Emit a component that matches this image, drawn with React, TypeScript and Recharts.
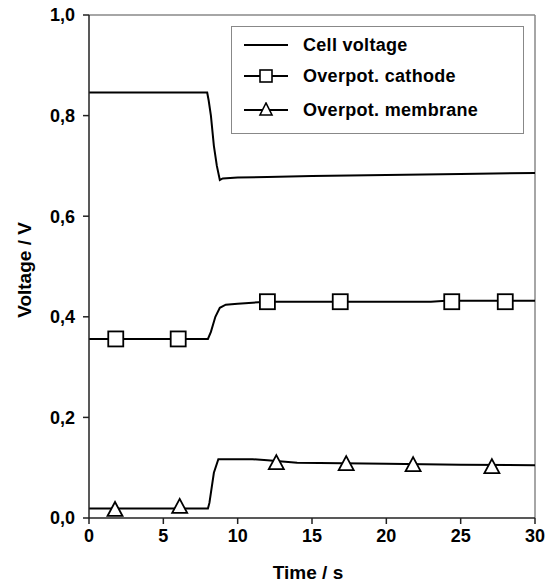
import {
  ComposedChart,
  Line,
  Scatter,
  XAxis,
  YAxis,
  ReferenceLine,
} from 'recharts';

// Measured traces (time in s, voltage in V)
const cellTime = [0, 7.95, 8.05, 8.2, 8.4, 8.6, 8.8, 9.0, 10, 12, 15, 20, 25, 30];
const cellVolt = [0.846, 0.846, 0.83, 0.8, 0.74, 0.7, 0.672, 0.675, 0.677, 0.678, 0.68, 0.682, 0.684, 0.686];

const cathodeTime = [0, 8.0, 8.2, 8.5, 8.8, 9.2, 10, 11, 12, 20, 23, 24, 30];
const cathodeVolt = [0.356, 0.356, 0.37, 0.4, 0.418, 0.424, 0.426, 0.428, 0.43, 0.43, 0.43, 0.432, 0.432];

const membraneTime = [0, 8.0, 8.1, 8.4, 8.7, 11, 12, 14, 20, 25, 30];
const membraneVolt = [0.019, 0.019, 0.03, 0.09, 0.117, 0.117, 0.115, 0.11, 0.108, 0.106, 0.105];

// Marker points
const cathodeMarkTime = [1.8, 6.0, 12.0, 16.9, 24.4, 28.0];
const cathodeMarkVolt = [0.356, 0.356, 0.43, 0.43, 0.43, 0.43];

const membraneMarkTime = [1.75, 6.1, 12.6, 17.3, 21.8, 27.1];
const membraneMarkVolt = [0.016, 0.022, 0.109, 0.107, 0.105, 0.101];

const xTicks = [0, 5, 10, 15, 20, 25, 30];
const yTicks = [0, 0.2, 0.4, 0.6, 0.8, 1.0];

const legendItems = ['Cell voltage', 'Overpot. cathode', 'Overpot. membrane'];

const FONT = '"Liberation Sans", Arial, Helvetica, sans-serif';

const toPoints = (t: number[], v: number[]) => t.map((x, i) => ({ t: x, v: v[i] }));

const SquareMark = (props: any) => {
  const { cx, cy } = props;
  if (cx == null || cy == null) return null;
  return <rect x={cx - 7.5} y={cy - 7.5} width={15} height={15} fill="#fff" stroke="#000" strokeWidth={1.8} />;
};

const TriangleMark = (props: any) => {
  const { cx, cy } = props;
  if (cx == null || cy == null) return null;
  return (
    <polygon
      points={`${cx},${cy - 8} ${cx - 7.5},${cy + 6} ${cx + 7.5},${cy + 6}`}
      fill="#fff"
      stroke="#000"
      strokeWidth={1.8}
    />
  );
};

function LegendIcon({ kind }: { kind: number }) {
  return (
    <svg width={46} height={16} style={{ display: 'block' }}>
      <line x1={1} y1={8} x2={45} y2={8} stroke="#000" strokeWidth={2.2} />
      {kind === 1 && <rect x={17} y={2} width={12} height={12} fill="#fff" stroke="#000" strokeWidth={1.6} />}
      {kind === 2 && <polygon points="23,1 17,13 29,13" fill="#fff" stroke="#000" strokeWidth={1.6} />}
    </svg>
  );
}

export default function App() {
  const cell = toPoints(cellTime, cellVolt);
  const cathode = toPoints(cathodeTime, cathodeVolt);
  const membrane = toPoints(membraneTime, membraneVolt);
  const cathodeMarks = toPoints(cathodeMarkTime, cathodeMarkVolt);
  const membraneMarks = toPoints(membraneMarkTime, membraneMarkVolt);

  const tickStyle = { fontSize: 18, fontWeight: 700, fill: '#000', fontFamily: FONT };
  // vertical centres of the legend rows (page coords)
  const rowCentres = [45, 76, 110];

  return (
    <div style={{ position: 'absolute', left: 0, top: 0, width: 551, height: 585, background: '#fff', fontFamily: FONT }}>
      <ComposedChart width={551} height={585} margin={{ top: 15, right: 16, bottom: 0, left: 0 }}>
        <XAxis
          type="number"
          dataKey="t"
          domain={[0, 30]}
          ticks={xTicks}
          allowDataOverflow
          tick={tickStyle}
          tickSize={6}
          tickMargin={5}
          stroke="#222"
          strokeWidth={1.5}
          height={67}
        />
        <YAxis
          type="number"
          dataKey="v"
          domain={[0, 1]}
          ticks={yTicks}
          tickFormatter={(v: number) => v.toFixed(1).replace('.', ',')}
          tick={tickStyle}
          tickSize={6}
          tickMargin={8}
          stroke="#222"
          strokeWidth={1.5}
          width={89}
        />
        <ReferenceLine y={1} stroke="#888" strokeWidth={1.5} />
        <ReferenceLine x={30} stroke="#888" strokeWidth={1.5} />
        <Line data={cell} dataKey="v" type="linear" stroke="#000" strokeWidth={2} dot={false} isAnimationActive={false} />
        <Line data={cathode} dataKey="v" type="linear" stroke="#000" strokeWidth={2} dot={false} isAnimationActive={false} />
        <Line data={membrane} dataKey="v" type="linear" stroke="#000" strokeWidth={2} dot={false} isAnimationActive={false} />
        <Scatter data={cathodeMarks} dataKey="v" shape={SquareMark} isAnimationActive={false} />
        <Scatter data={membraneMarks} dataKey="v" shape={TriangleMark} isAnimationActive={false} />
      </ComposedChart>

      {/* legend box */}
      <div
        style={{
          position: 'absolute',
          left: 231,
          top: 26,
          width: 293,
          height: 108,
          border: '1px solid #888',
          boxSizing: 'border-box',
          background: '#fff',
        }}
      >
        {legendItems.map((name, i) => (
          <div
            key={name}
            style={{ position: 'absolute', left: 11, top: rowCentres[i] - 27 - 11, display: 'flex', alignItems: 'center', height: 22 }}
          >
            <LegendIcon kind={i} />
            <span style={{ marginLeft: 14, fontSize: 18, fontWeight: 700, color: '#000', whiteSpace: 'nowrap', letterSpacing: 0.3 }}>
              {name}
            </span>
          </div>
        ))}
      </div>

      {/* axis titles */}
      <div
        style={{
          position: 'absolute',
          left: 308,
          top: 573,
          transform: 'translate(-50%, -50%)',
          fontSize: 19,
          fontWeight: 700,
          whiteSpace: 'nowrap',
        }}
      >
        Time / s
      </div>
      <div
        style={{
          position: 'absolute',
          left: 25,
          top: 270,
          transform: 'translate(-50%, -50%) rotate(-90deg)',
          fontSize: 19,
          fontWeight: 700,
          whiteSpace: 'nowrap',
        }}
      >
        Voltage / V
      </div>
    </div>
  );
}
